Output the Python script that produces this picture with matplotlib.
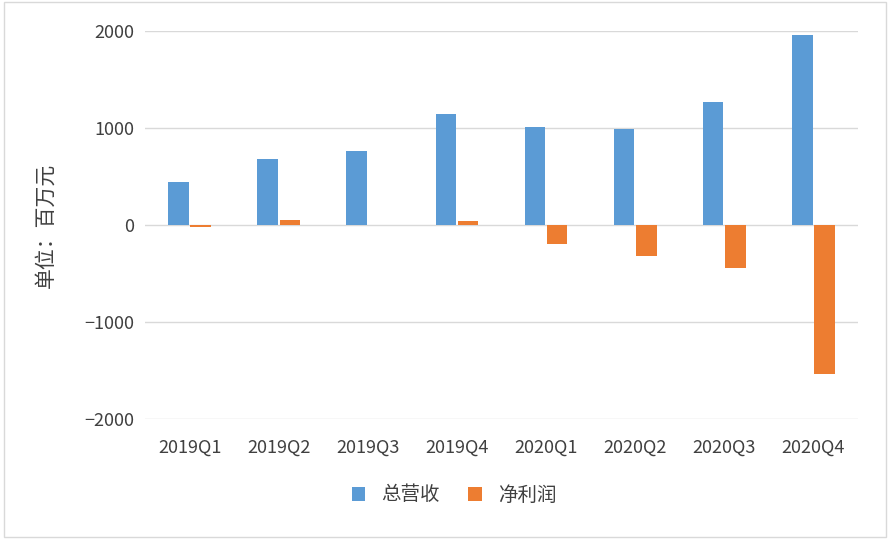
import matplotlib
matplotlib.use("Agg")
import matplotlib.pyplot as plt
import numpy as np

plt.rcParams['font.family'] = ['Noto Sans CJK SC', 'DejaVu Sans']

categories = ["2019Q1","2019Q2","2019Q3","2019Q4","2020Q1","2020Q2","2020Q3","2020Q4"]
revenue = [443, 680, 763, 1144, 1010, 990, 1268, 1959]
profit = [-20, 50, 3, 40, -196, -320, -443, -1536]

fig = plt.figure(figsize=(8.9, 5.39), dpi=100)
ax = fig.add_axes([145/890, 1-419/539, 713/890, 388/539])
x = np.arange(len(categories))
w = 0.23
ax.bar(x - 0.125, revenue, w, color='#5B9BD5', label='总营收', zorder=3)
ax.bar(x + 0.125, profit, w, color='#ED7D31', label='净利润', zorder=3)
ax.set_xlim(-0.5, 7.5)
ax.set_ylim(-2000, 2000)
ax.set_yticks([-2000, -1000, 0, 1000, 2000])
ax.yaxis.grid(True, color='#D9D9D9', lw=1, zorder=0)
for s in ax.spines.values():
    s.set_visible(False)
ax.tick_params(length=0, labelsize=13, colors='#404040', pad=8)
ax.set_xticks(x)
ax.set_xticklabels(categories)
ax.tick_params(axis='x', pad=14)
ax.set_ylabel('单位：百万元', fontsize=15, color='#404040', labelpad=20)
fig.legend(loc='center', bbox_to_anchor=(0.51, 1-495/539), ncol=2, frameon=False,
           fontsize=14, handlelength=0.7, handleheight=0.7, columnspacing=1.5, labelcolor='#404040')
fig.patches.append(plt.Rectangle((0.004, 0.004), 0.992, 0.992, transform=fig.transFigure,
                                 fill=False, edgecolor='#D9D9D9', lw=1))
fig.savefig('out.png')
